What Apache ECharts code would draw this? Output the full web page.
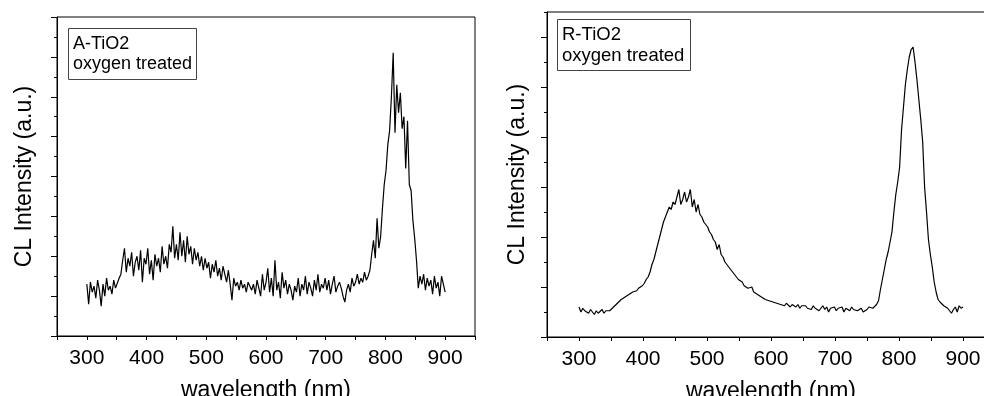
<!DOCTYPE html>
<html>
<head>
<meta charset="utf-8">
<script src="https://cdn.jsdelivr.net/npm/echarts@6/dist/echarts.min.js"></script>
<style>
  html, body { margin: 0; padding: 0; background: #fff; }
  #chart { width: 984px; height: 396px; }
</style>
</head>
<body>
<div id="chart"></div>
<script>
// wavelength grid of both spectra: 300 nm to 900 nm, every 3 nm
var startNm = 300;
var stepNm = 3;

// A-TiO2, oxygen treated (a.u.)
var anataseCL = [
  2.6, 1.6, 2.7, 2.2, 2.5, 1.9, 2.8, 2.3, 1.5, 2.6, 2.0, 2.9, 2.3, 2.5, 2.1, 2.8, 2.4,
  2.3, 2.9, 3.1,
  3.8, 4.4, 3.2, 3.9, 3.5, 4.2, 3.0, 3.7, 4.0, 3.3, 4.3, 2.7, 3.9, 3.6, 4.4, 3.1, 3.8, 2.8, 4.1, 3.5, 3.9, 3.2, 4.5, 3.6, 4.0, 3.4, 4.6,
  4.2, 5.5, 3.9, 4.6, 3.8, 5.2, 4.0, 4.8, 3.7, 5.0, 4.1,
  4.5, 3.6, 4.4, 3.8, 4.2, 3.5, 4.0, 3.3, 3.9, 3.4, 3.7, 2.9, 3.6, 3.2, 3.8, 3.0, 3.4, 2.8, 3.5, 3.1, 2.7, 3.3, 2.6,
  1.8, 2.9, 2.5, 2.7, 2.3, 2.8, 2.4, 2.6, 2.2, 2.7, 2.5, 2.3, 2.6, 2.1, 2.8, 2.4, 2.0, 3.1, 2.3, 2.7,
  3.4, 2.2, 2.9, 2.0, 3.8, 2.3, 2.7, 1.9, 3.2, 2.4, 2.8, 2.1, 2.6, 2.3, 1.8, 2.5, 2.2, 2.9, 2.0, 2.6, 2.3, 3.0, 2.1, 2.7, 2.4, 2.0, 2.8, 2.3, 3.1, 2.2, 2.6, 2.4, 2.9,
  2.3, 2.8, 2.1, 2.6, 3.0, 2.2, 2.5, 2.7, 2.4, 2.0, 1.7, 2.3, 2.6, 2.2, 2.9, 2.5, 2.7, 3.1, 2.6, 2.9, 2.7, 3.2, 2.8, 3.0,
  3.3, 4.1, 4.8, 3.9, 5.9, 4.4, 5.0, 6.4, 7.6,
  8.3, 9.6, 10.3, 12.0, 14.2, 10.2, 12.6, 11.2, 12.2, 10.4, 11.0, 8.4, 10.8, 7.6, 7.3, 5.8, 4.9,
  3.8, 2.4, 3.0, 2.6, 3.1, 2.3, 2.9, 2.5, 2.8, 2.1, 3.0, 2.4, 2.7, 2.0, 3.0, 2.6, 2.2
];

// R-TiO2, oxygen treated (a.u.)
var rutileCL = [
  1.2, 1.0, 1.15, 1.05, 1.1, 0.95, 1.1, 1.0, 0.9, 1.05, 0.95, 1.0, 1.1, 0.95, 1.05, 1.0, 1.05,
  1.1, 1.2, 1.25, 1.35, 1.3, 1.5, 1.45, 1.6, 1.55, 1.7, 1.65, 1.8, 1.75, 1.85, 1.95, 1.9, 2.05,
  2.15, 2.3, 2.4, 2.6, 2.9, 3.1, 3.4, 3.7, 4.0, 4.3, 4.6, 4.8, 5.0, 5.2, 5.1, 5.4, 5.3,
  5.6, 5.9, 5.3, 5.5, 5.8, 5.4, 5.6, 5.9, 5.2, 5.5, 5.0, 5.3, 4.9, 4.8, 4.6, 4.5, 4.4,
  4.2, 4.1, 3.9, 3.8, 3.5, 3.7, 3.3, 3.2, 3.0, 2.95, 2.8, 2.7, 2.6, 2.5, 2.4, 2.3, 2.25,
  2.2, 2.05, 2.1, 1.95, 1.9, 2.0, 1.8, 1.75, 1.7, 1.65, 1.6, 1.6, 1.5, 1.55, 1.45, 1.5, 1.4,
  1.45, 1.35, 1.4, 1.3, 1.35, 1.25, 1.35, 1.3, 1.2, 1.3, 1.25, 1.2, 1.3, 1.15, 1.25, 1.2, 1.25,
  1.15, 1.2, 1.1, 1.25, 1.15, 1.2, 1.05, 1.15, 1.25, 1.1, 1.2, 1.0, 1.15, 1.1, 1.2, 1.05, 1.15,
  1.1, 1.2, 1.0, 1.15, 1.1, 1.05, 1.2, 1.1, 1.15, 1.05, 1.1, 1.15, 1.0, 1.05, 1.1, 1.2, 1.15,
  1.15, 1.2, 1.3, 1.45, 1.9, 2.3, 2.7, 3.1, 3.4, 3.8, 4.2, 5.0, 5.7, 6.2, 6.8, 8.3, 9.2,
  10.1, 10.7, 11.2, 11.5, 11.6, 11.0, 10.3, 9.5, 8.7, 7.8, 6.0, 5.0, 3.9, 3.3, 2.8, 2.2, 1.8,
  1.5, 1.4, 1.35, 1.25, 1.2, 1.15, 1.05, 0.95, 1.1, 1.2, 1.0, 1.25, 1.15, 1.2
];

var xTickLabels = [300, 400, 500, 600, 700, 800, 900];
var rutileMajorTicks = [0, 2, 4, 6, 8, 10, 12];
var rutileMinorTicks = [1, 3, 5, 7, 9, 11, 13];

function toPairs(values) {
  return values.map(function (v, i) { return [startNm + i * stepNm, v]; });
}

var font = 'Liberation Sans, Arial, sans-serif';

function xAxisFor(gridIndex) {
  return {
    type: 'value', gridIndex: gridIndex, min: 250, max: 950, interval: 50,
    name: 'wavelength (nm)', nameLocation: 'middle', nameGap: 43,
    nameTextStyle: { fontFamily: font, fontSize: 23, color: '#000' },
    axisLine: { lineStyle: { color: '#000', width: 1 } },
    axisTick: { length: 4, lineStyle: { color: '#000' } },
    axisLabel: {
      margin: 12, fontFamily: font, fontSize: 21, color: '#000',
      formatter: function (v) { return xTickLabels.indexOf(v) >= 0 ? String(v) : ''; }
    },
    splitLine: { show: false }
  };
}

var chart = echarts.init(document.getElementById('chart'));
chart.setOption({
  animation: false,
  backgroundColor: '#fff',
  title: [
    {
      text: 'A-TiO2\noxygen treated', left: 68, top: 28, padding: [6, 5, 6, 5],
      borderColor: '#444', borderWidth: 1,
      textStyle: { fontFamily: font, fontSize: 18, lineHeight: 20, fontWeight: 'normal', color: '#000' }
    },
    {
      text: 'R-TiO2\noxygen treated', left: 557, top: 19, padding: [5, 6, 5, 5],
      borderColor: '#444', borderWidth: 1,
      textStyle: { fontFamily: font, fontSize: 18.5, lineHeight: 21, fontWeight: 'normal', color: '#000' }
    }
  ],
  grid: [
    { left: 57, top: 17, width: 418, height: 319, show: true, borderColor: '#000', borderWidth: 1, outerBoundsMode: 'none' },
    { left: 547, top: 12, width: 448, height: 325, show: true, borderColor: '#000', borderWidth: 1, outerBoundsMode: 'none' }
  ],
  xAxis: [xAxisFor(0), xAxisFor(1)],
  yAxis: [
    {
      type: 'value', gridIndex: 0, min: 0, max: 16, interval: 2,
      name: 'CL Intensity (a.u.)', nameLocation: 'middle', nameGap: 21,
      nameTextStyle: { fontFamily: font, fontSize: 23, color: '#000' },
      axisLine: { lineStyle: { color: '#000', width: 1 } },
      axisTick: { length: 6, lineStyle: { color: '#000' } },
      minorTick: { show: true, splitNumber: 2, length: 3, lineStyle: { color: '#000' } },
      axisLabel: { show: false },
      splitLine: { show: false }
    },
    {
      type: 'value', gridIndex: 1, min: 0, max: 13,
      name: 'CL Intensity (a.u.)', nameLocation: 'middle', nameGap: 18,
      nameTextStyle: { fontFamily: font, fontSize: 23, color: '#000' },
      axisLine: { lineStyle: { color: '#000', width: 1 } },
      axisTick: { length: 6, customValues: rutileMajorTicks, lineStyle: { color: '#000' } },
      axisLabel: { show: false },
      splitLine: { show: false }
    },
    {
      type: 'value', gridIndex: 1, min: 0, max: 13, position: 'left',
      axisLine: { show: false },
      axisTick: { length: 3, customValues: rutileMinorTicks, lineStyle: { color: '#000' } },
      axisLabel: { show: false },
      splitLine: { show: false }
    }
  ],
  series: [
    {
      type: 'line', xAxisIndex: 0, yAxisIndex: 0, data: toPairs(anataseCL),
      showSymbol: false, lineStyle: { color: '#000', width: 1.2 }, silent: true
    },
    {
      type: 'line', xAxisIndex: 1, yAxisIndex: 1, data: toPairs(rutileCL),
      showSymbol: false, lineStyle: { color: '#000', width: 1.2 }, silent: true
    }
  ]
});
</script>
</body>
</html>
